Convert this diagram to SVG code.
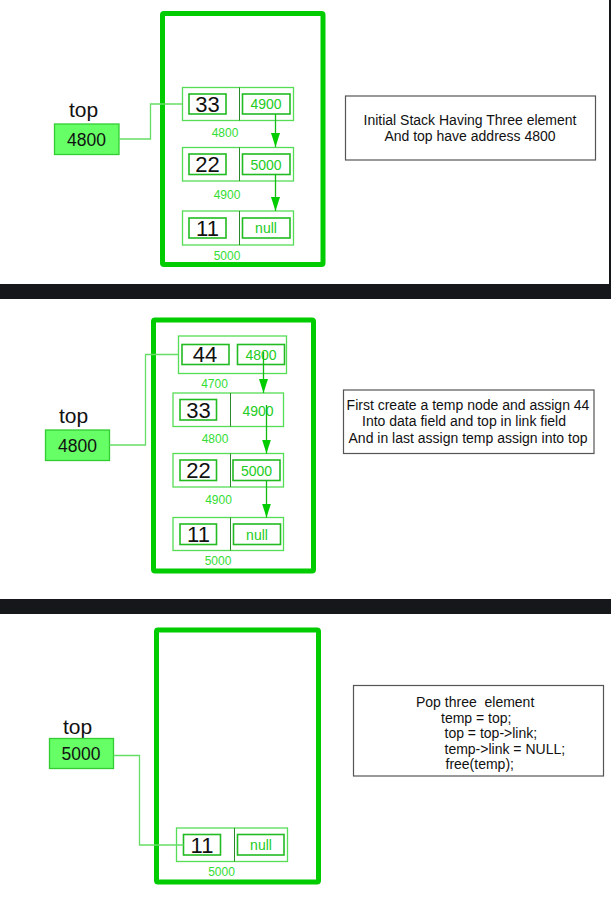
<svg xmlns="http://www.w3.org/2000/svg" width="611" height="907" viewBox="0 0 611 907">
<style>
text{font-family:"Liberation Sans",Arial,sans-serif}
.frame{fill:none;stroke:#00cc00;stroke-width:5}
.outer{fill:#fff;stroke:#55dd55;stroke-width:1.3}
.div{stroke:#2a8a2a;stroke-width:1}
.inner{fill:#fff;stroke:#22bb22;stroke-width:1.6}
.data{font-size:22px;fill:#111;text-anchor:middle}
.link{font-size:14px;fill:#22cc22;text-anchor:middle}
.addr{font-size:12px;fill:#33dd33;text-anchor:middle}
.toplbl{font-size:21px;fill:#111}
.topbox{fill:#66ff66;stroke:#33cc33;stroke-width:1.3}
.topval{font-size:17.5px;fill:#111;text-anchor:middle}
.conn{fill:none;stroke:#66dd66;stroke-width:1.3}
.arr{fill:none;stroke:#11bb11;stroke-width:1.3}
.note{fill:#fff;stroke:#555;stroke-width:1.2}
.nt{font-size:14px;fill:#111}
.band{fill:#16171b}
</style>
<defs>
<marker id="ah" markerUnits="userSpaceOnUse" markerWidth="10" markerHeight="16" refX="5" refY="14" viewBox="0 0 10 16">
<path d="M0.5,0 L9.5,0 L5,14 Z" fill="#00cc00"/>
</marker>
</defs>
<rect width="611" height="907" fill="#fff"/>
<rect class="band" x="0" y="284" width="611" height="15"/>
<rect class="band" x="0" y="599" width="611" height="15"/>
<rect class="band" x="609" y="0" width="2" height="284"/>

<!-- Panel 1 -->
<g id="p1-stack"><rect class="frame" x="162.5" y="13.5" width="160.5" height="251" rx="1.5"/></g>
<g id="p1-top">
<text class="toplbl" x="69" y="117">top</text>
<rect class="topbox" x="54.5" y="124" width="64.5" height="30.5"/>
<text class="topval" x="86.5" y="145.5">4800</text>
</g>
<g id="p1-n33">
<rect class="outer" x="182.5" y="87.5" width="111" height="33"/>
<line class="div" x1="239.5" y1="87.5" x2="239.5" y2="120.5"/>
<rect class="inner" x="189" y="94" width="37" height="20"/>
<text class="data" x="207.5" y="111.5">33</text>
<rect class="inner" x="242.5" y="94" width="47.5" height="20"/>
<text class="link" x="266" y="109">4900</text>
<text class="addr" x="225" y="137">4800</text>
</g>
<g id="p1-n22">
<rect class="outer" x="182.5" y="147.5" width="111" height="33.5"/>
<line class="div" x1="239.5" y1="147.5" x2="239.5" y2="181"/>
<rect class="inner" x="189" y="154" width="37" height="20.5"/>
<text class="data" x="207.5" y="171.5">22</text>
<rect class="inner" x="242.5" y="154" width="47.5" height="20.5"/>
<text class="link" x="266" y="169.5">5000</text>
<text class="addr" x="227" y="198.5">4900</text>
</g>
<g id="p1-n11">
<rect class="outer" x="182.5" y="211" width="111" height="34"/>
<line class="div" x1="239.5" y1="211" x2="239.5" y2="245"/>
<rect class="inner" x="189" y="218" width="37" height="20"/>
<text class="data" x="207.5" y="235.5">11</text>
<rect class="inner" x="242.5" y="218" width="47.5" height="20"/>
<text class="link" x="266" y="233">null</text>
<text class="addr" x="227" y="259.5">5000</text>
</g>
<g id="p1-note">
<rect class="note" x="345.5" y="96" width="250" height="64"/>
<text class="nt" x="470" y="125" text-anchor="middle">Initial Stack Having Three element</text>
<text class="nt" x="470" y="141" text-anchor="middle">And top have address 4800</text>
</g>

<!-- Panel 2 -->
<g id="p2-stack"><rect class="frame" x="153.5" y="320" width="160" height="251" rx="1.5"/></g>
<g id="p2-top">
<text class="toplbl" x="59" y="423">top</text>
<rect class="topbox" x="45.5" y="430" width="64" height="30.5"/>
<text class="topval" x="77.5" y="451.5">4800</text>
</g>
<g id="p2-n44">
<rect class="outer" x="178.5" y="336" width="108" height="37.5"/>
<rect class="inner" x="182" y="344.5" width="47" height="20"/>
<text class="data" x="205" y="362">44</text>
<rect class="inner" x="237.5" y="344.5" width="47" height="20"/>
<text class="link" x="261" y="359.5">4800</text>
<text class="addr" x="214.5" y="387.5">4700</text>
</g>
<g id="p2-n33">
<rect class="outer" x="173" y="393" width="110.5" height="33.5"/>
<line class="div" x1="230.5" y1="393" x2="230.5" y2="426.5"/>
<rect class="inner" x="180" y="399.5" width="36.5" height="20.5"/>
<text class="data" x="198.5" y="417.5">33</text>
<text class="link" x="258" y="415.5">4900</text>
<text class="addr" x="215" y="442.5">4800</text>
</g>
<g id="p2-n22">
<rect class="outer" x="173" y="453.5" width="110.5" height="33.5"/>
<line class="div" x1="230.5" y1="453.5" x2="230.5" y2="487"/>
<rect class="inner" x="180" y="460" width="36.5" height="20.5"/>
<text class="data" x="198.5" y="478">22</text>
<rect class="inner" x="233" y="460" width="47" height="20.5"/>
<text class="link" x="256.5" y="475.5">5000</text>
<text class="addr" x="218.5" y="503.5">4900</text>
</g>
<g id="p2-n11">
<rect class="outer" x="173" y="517.5" width="110.5" height="33"/>
<line class="div" x1="230.5" y1="517.5" x2="230.5" y2="550.5"/>
<rect class="inner" x="180" y="524" width="36.5" height="20.5"/>
<text class="data" x="198.5" y="542">11</text>
<rect class="inner" x="233.5" y="524" width="47" height="20.5"/>
<text class="link" x="257" y="539.5">null</text>
<text class="addr" x="218" y="565">5000</text>
</g>
<g id="p2-note">
<rect class="note" x="343.5" y="390" width="250.5" height="63.5"/>
<text class="nt" x="468" y="410" text-anchor="middle">First create a temp node and assign 44</text>
<text class="nt" x="464" y="426" text-anchor="middle">Into data field and top in link field</text>
<text class="nt" x="468" y="443" text-anchor="middle">And in last assign temp assign into top</text>
</g>

<!-- Panel 3 -->
<g id="p3-stack"><rect class="frame" x="156.5" y="630" width="162" height="252" rx="1.5"/></g>
<g id="p3-top">
<text class="toplbl" x="63" y="734">top</text>
<rect class="topbox" x="49.5" y="738.5" width="64" height="30"/>
<text class="topval" x="81" y="760">5000</text>
</g>
<g id="p3-n11">
<rect class="outer" x="176.5" y="828" width="111" height="33.5"/>
<line class="div" x1="234.5" y1="828" x2="234.5" y2="861.5"/>
<rect class="inner" x="183.5" y="834.5" width="37" height="20.5"/>
<text class="data" x="202" y="852.5">11</text>
<rect class="inner" x="237.5" y="834.5" width="46.5" height="20.5"/>
<text class="link" x="261" y="850">null</text>
<text class="addr" x="221.5" y="876">5000</text>
</g>
<g id="p3-note">
<rect class="note" x="353.5" y="685.5" width="250" height="90.5"/>
<text class="nt" x="416" y="707" xml:space="preserve">Pop three  element</text>
<text class="nt" x="441" y="722.5">temp = top;</text>
<text class="nt" x="444.5" y="738">top = top-&gt;link;</text>
<text class="nt" x="444.5" y="753.5">temp-&gt;link = NULL;</text>
<text class="nt" x="445.5" y="769">free(temp);</text>
</g>

<g id="connectors">
<polyline class="conn" points="119,139 150.5,139 150.5,104 182.5,104"/>
<line class="arr" x1="275.5" y1="114" x2="275.5" y2="147" marker-end="url(#ah)"/>
<line class="arr" x1="275.5" y1="174.5" x2="275.5" y2="211" marker-end="url(#ah)"/>
<polyline class="conn" points="109.5,445 145.5,445 145.5,354.5 178.5,354.5"/>
<line class="arr" x1="263.5" y1="352" x2="263.5" y2="393" marker-end="url(#ah)"/>
<line class="arr" x1="266.5" y1="405" x2="266.5" y2="453.5" marker-end="url(#ah)"/>
<line class="arr" x1="266.5" y1="480.5" x2="266.5" y2="517.5" marker-end="url(#ah)"/>
<polyline class="conn" points="113.5,755.5 139.5,755.5 139.5,845 183.5,845"/>
</g>
</svg>
